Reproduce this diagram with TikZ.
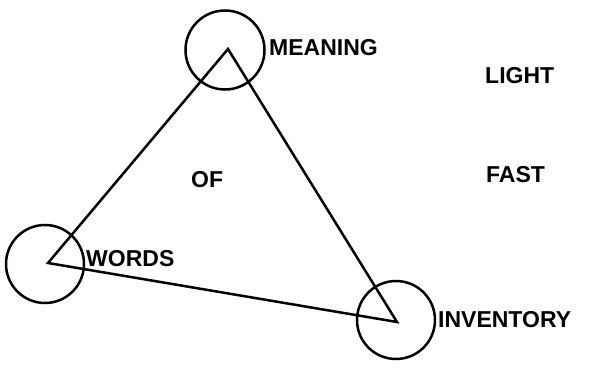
\documentclass[tikz,border=0pt]{standalone}
\usepackage{fontspec}
\setmainfont{Liberation Sans}
\begin{document}
\begin{tikzpicture}[x=1pt,y=-1pt,
  ring/.style={draw,circle,line width=2.5pt,minimum size=#1,inner sep=0pt},
  edge/.style={line width=2.5pt,line join=miter},
  lbl/.style={anchor=west,inner sep=0pt,font=\fontsize{23}{25}\selectfont\bfseries}]
\useasboundingbox (0,0) rectangle (590,369);
\node[ring=79pt] (cm) at (225,50) {};
\node[ring=78pt] (cw) at (45,264) {};
\node[ring=78pt] (ci) at (396,320) {};
\coordinate (m) at (228,49);
\coordinate (w) at (48,263);
\coordinate (i) at (397,322);
\draw[edge] (m) -- (w) -- (i) -- cycle;
\node[lbl] (tm) at (269,48) {MEANING};
\node[lbl] (tw) at (86,259) {WORDS};
\node[lbl] (ti) at (438,320) {INVENTORY};
\node[lbl] (tl) at (485,76) {LIGHT};
\node[lbl] (tf) at (486,175) {FAST};
\node[lbl] (to) at (191,180) {OF};
\end{tikzpicture}
\end{document}
